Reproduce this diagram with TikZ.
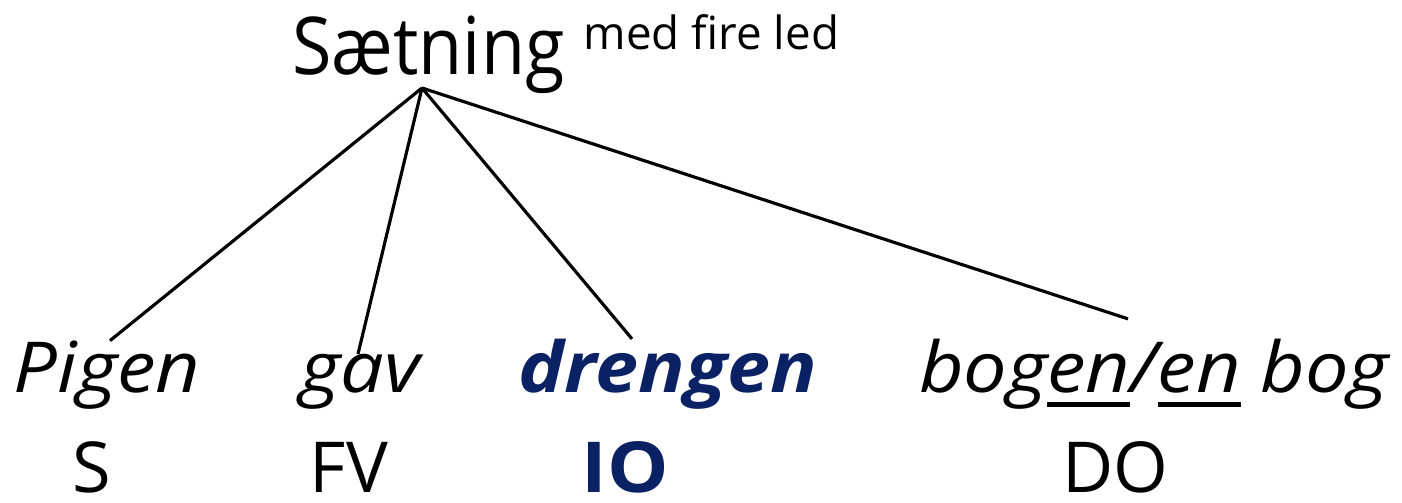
\documentclass[tikz,border=0pt]{standalone}
\usepackage{fontspec}
\setmainfont{Open Sans}[ItalicFeatures={FakeStretch=1.1},BoldItalicFeatures={FakeStretch=1.1},BoldFeatures={FakeStretch=1.1}]
\newfontfamily\rootfont{Open Sans}[FakeStretch=0.9]
\definecolor{navy}{HTML}{0A2263}
\newcommand{\enline}[1]{\setbox0\hbox{#1}\rlap{\rule[-0.2em]{\wd0}{0.065em}}\box0\relax}
\tikzset{
	word/.style={inner sep=0pt,anchor=base,font=\fontsize{20}{24}\selectfont\itshape},
	role/.style={inner sep=0pt,anchor=base,font=\fontsize{20}{24}\selectfont},
	branch/.style={line width=0.9pt}
}
\begin{document}
\begin{tikzpicture}
			\useasboundingbox (0,0) rectangle (14.02,5.03);
			\node[inner sep=0pt,anchor=base,font=\fontsize{22.7}{27}\rootfont] (root) at (4.285,4.28) {Sætning};
			\node[inner sep=0pt,anchor=base west,font=\fontsize{13}{16}\selectfont] (led) at (5.83,4.53) {med fire led};
			\coordinate (top) at (4.22,4.15);

			% ordene
			\node[word] (pigen) at (1.07,1.10) {Pigen};
			\node[word] (gav) at (3.60,1.10) {gav};
			\node[word,text=navy,font=\fontsize{20}{24}\selectfont\bfseries\itshape] (drengen) at (6.68,1.10) {drengen};
			\node[word] (bog) at (11.54,1.10) {bog\enline{en}/\enline{en} bog};

			% leddene
			\node[role] (s) at (0.92,0.1) {S};
			\node[role] (fv) at (3.49,0.1) {FV};
			\node[role,text=navy,font=\fontsize{20}{24}\selectfont\bfseries] (io) at (6.25,0.1) {IO};
			\node[role] (do) at (11.15,0.1) {DO};

			\draw[branch] (top) -- ([xshift=0.3mm]pigen.north);
			\draw[branch] (top) -- ([xshift=-0.2mm]gav.north);
			\draw[branch] (top) -- ([xshift=-3.6mm]drengen.north);
			\draw[branch] (top) -- ([xshift=-2.6mm,yshift=2mm]bog.north);
\end{tikzpicture}
\end{document}
